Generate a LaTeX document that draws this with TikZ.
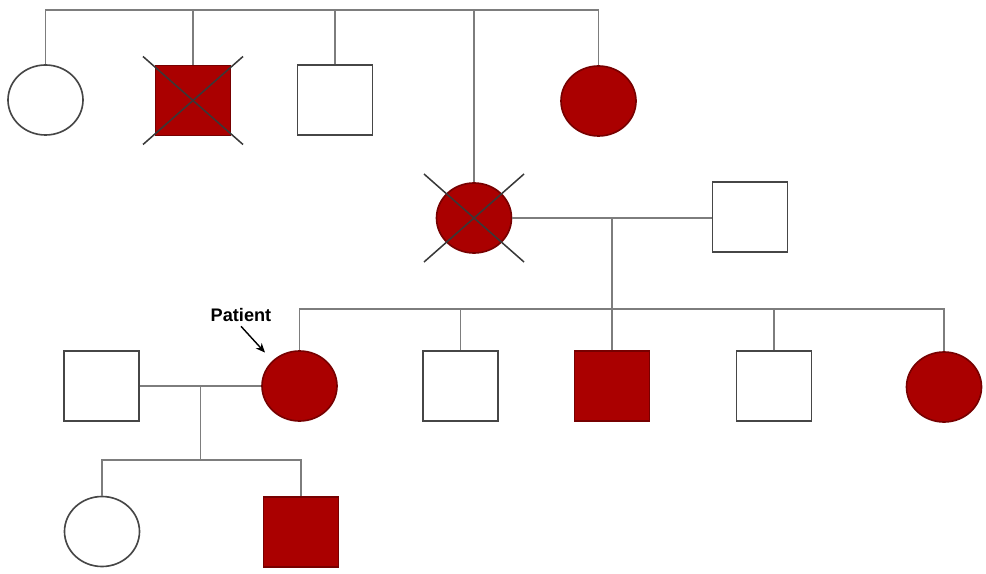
\documentclass[tikz,border=0pt]{standalone}
\usepackage{fontspec}
\setmainfont{Liberation Sans}
\usetikzlibrary{arrows.meta,shapes.geometric,calc}
\definecolor{sick}{RGB}{170,0,0}
\definecolor{ink}{RGB}{70,70,70}
\definecolor{soft}{RGB}{125,125,125}
\tikzset{
  male/.style={rectangle, draw=ink, line width=1.4pt, fill=white,
               minimum width=22.5mm, minimum height=21mm, inner sep=0pt},
  female/.style={ellipse, draw=ink, line width=1.4pt, fill=white,
               minimum width=22.5mm, minimum height=21mm, inner sep=0pt},
  affected/.style={fill=sick, draw=sick!70!black},
  link/.style={soft, line width=1.2pt},
  gone/.style={ink!80!black, line width=1.3pt},
  pointer/.style={-{Stealth[length=2.8mm,width=2.4mm]}, black, line width=1.2pt},
}

\begin{document}
\begin{tikzpicture}[x=0.3mm,y=-0.3mm]
    \useasboundingbox (0,0) rectangle (986,574);
    % generation I
    \node[female]          (ia) at (45.5,100) {};
    \node[male,affected]   (ib) at (193,100.5) {};
    \node[male]            (ic) at (335,100) {};
    \node[female,affected] (id) at (598.5,101) {};
    % generation II
    \node[female,affected] (iia) at (474,218) {};
    \node[male]            (iib) at (750,217) {};
    % generation III
    \node[male]            (iiia)    at (101.5,386) {};
    \node[female,affected] (patient) at (299.5,386) {};
    \node[male]            (iiib)    at (460.5,386) {};
    \node[male,affected]   (iiic)    at (612,386) {};
    \node[male]            (iiid)    at (774,386) {};
    \node[female,affected] (iiie)    at (944,387) {};
    % generation IV
    \node[female]          (iva) at (102,531.5) {};
    \node[male,affected]   (ivb) at (301,532) {};

    % sibship of generation I
    \coordinate (sibsI) at (0,10);
    \draw[link] (ia.north) |- (sibsI -| id.north) -- (id.north);
    \foreach \n in {ib,ic,iia}
      \draw[link] (\n.north) -- (\n.north |- sibsI);

    % mating II and its children
    \draw[link] (iia.east) -- (iia.east -| iib.west);
    \coordinate (dropII) at ($(iia.east)!0.5!(iia.east -| iib.west)$);
    \coordinate (sibsIII) at (0,309);
    \draw[link] (dropII) -- (dropII |- sibsIII);
    \draw[link] (patient.north) |- (sibsIII -| iiie.north) -- (iiie.north);
    \foreach \n in {iiib,iiic,iiid}
      \draw[link] (\n.north) -- (\n.north |- sibsIII);

    % mating III and its children
    \draw[link] (iiia.east) -- (patient.west);
    \coordinate (dropIII) at ($(iiia.east)!0.5!(patient.west)$);
    \coordinate (sibsIV) at (0,460);
    \draw[link] (dropIII) -- (dropIII |- sibsIV);
    \draw[link] (iva.north) |- (sibsIV -| ivb.north) -- (ivb.north);

    % deceased
    \foreach \n in {ib,iia} {
      \draw[gone] ($(\n)+(-50,-44)$) -- ($(\n)+(50,44)$);
      \draw[gone] ($(\n)+(-50,44)$) -- ($(\n)+(50,-44)$);
    }

    % proband
    \node[font=\bfseries\fontsize{15.5}{18}\selectfont] (tag) at (241,315.5) {Patient};
    \draw[pointer,shorten >=3.3mm] (tag.south) -- (patient.north west);
\end{tikzpicture}
\end{document}
